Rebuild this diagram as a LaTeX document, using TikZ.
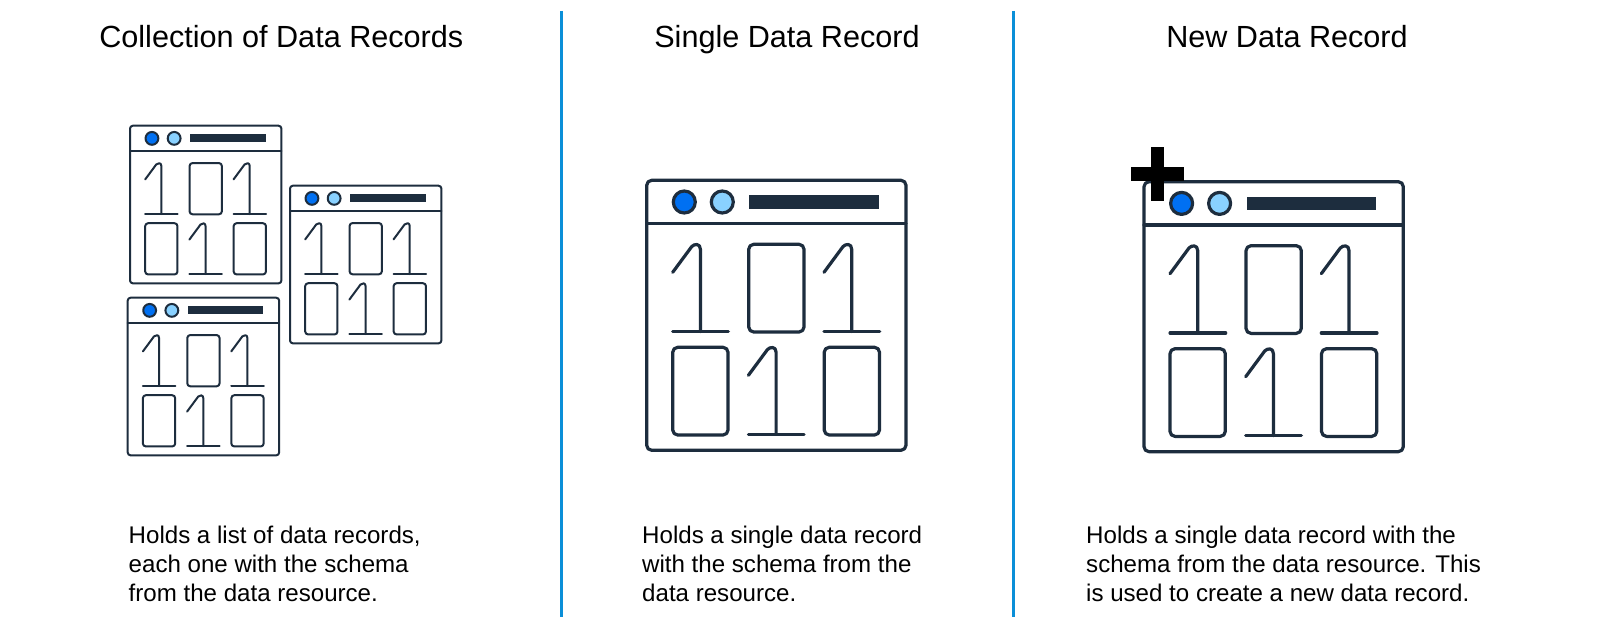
\documentclass[tikz,border=0pt]{standalone}
\usepackage{fontspec}
\setmainfont{Liberation Sans}
\definecolor{ink}{HTML}{1D2D3E}
\definecolor{dotA}{HTML}{0070F2}
\definecolor{dotB}{HTML}{89D1FF}
\definecolor{rule}{HTML}{0A8FD8}
\tikzset{
  titletext/.style={anchor=base,font=\fontsize{30.6}{36}\selectfont,text=black,inner sep=0pt},
  bodytext/.style={anchor=north west,align=left,font=\fontsize{24.1}{29}\selectfont,text=black,inner sep=0pt},
  divider/.style={draw=rule,line width=3pt},
  winline/.style={draw=ink,line cap=round,line join=round},
}
\newcommand{\onedigit}[3]{%
  \draw[winline] (#1,#2+28) -- (#1+19,#2+2.3) .. controls (#1+21.5,#2-0.6) and (#1+27.7,#2-1.2) .. (#1+27.7,#2+5) -- (#1+27.7,#2+#3);
  \draw[winline] (#1,#2+#3) -- (#1+55.7,#2+#3);
}
\newcommand{\zerodigit}[2]{%
  \draw[winline,rounded corners=5*\wscale pt] (#1,#2) rectangle (#1+55.3,#2+87.7);
}
\newcommand{\recordwin}[4]{%
  \def\wscale{#3}%
  \begin{scope}[shift={(#1,#2)},x=#3pt,y=-#3pt,line width=#4pt]
    \draw[winline,fill=white,rounded corners=5*#3 pt] (0,0) rectangle (259.3,270);
    \draw[winline] (0,43.3) -- (259.3,43.3);
    \draw[winline,fill=dotA] (37.6,21.7) circle (11);
    \draw[winline,fill=dotB] (75.6,21.7) circle (11);
    \fill[ink] (102.6,15) rectangle (232.3,28.7);
    \onedigit{26}{64}{87.3}
    \zerodigit{102}{64}
    \onedigit{177.3}{64}{87.3}
    \zerodigit{26}{167}
    \onedigit{101.7}{167}{87}
    \zerodigit{177.5}{167}
  \end{scope}%
}
\begin{document}
\begin{tikzpicture}[x=1pt,y=-1pt]
  \useasboundingbox[fill=white] (0,0) rectangle (1600,628);
  \coordinate (d1a) at (561,11); \coordinate (d1b) at (561,617);
  \coordinate (d2a) at (1013.5,11); \coordinate (d2b) at (1013.5,617);
  \draw[divider] (d1a) -- (d1b);
  \draw[divider] (d2a) -- (d2b);
  \node[titletext] (t1) at (281.3,48) {Collection of Data Records};
  \node[titletext] (t2) at (787,48) {Single Data Record};
  \node[titletext] (t3) at (1287,48) {New Data Record};
  \recordwin{130}{125.7}{0.584}{2}
  \recordwin{290}{185.7}{0.584}{2}
  \recordwin{127.7}{297.7}{0.584}{2}
  \recordwin{646.7}{180.3}{1}{3.2}
  \recordwin{1144}{181.7}{1}{3.2}
  \fill[black] (1150.7,147.3) rectangle (1164.3,201.3);
  \fill[black] (1130.7,167.3) rectangle (1184.3,181);
  \node[bodytext] (b1) at (128.5,526) {Holds a list of data records,\\each one with the schema\\from the data resource.};
  \node[bodytext] (b2) at (642,526) {Holds a single data record\\with the schema from the\\data resource.};
  \node[bodytext] (b3) at (1086,526) {Holds a single data record with the\\schema from the data resource. This\\is used to create a new data record.};
\end{tikzpicture}
\end{document}
